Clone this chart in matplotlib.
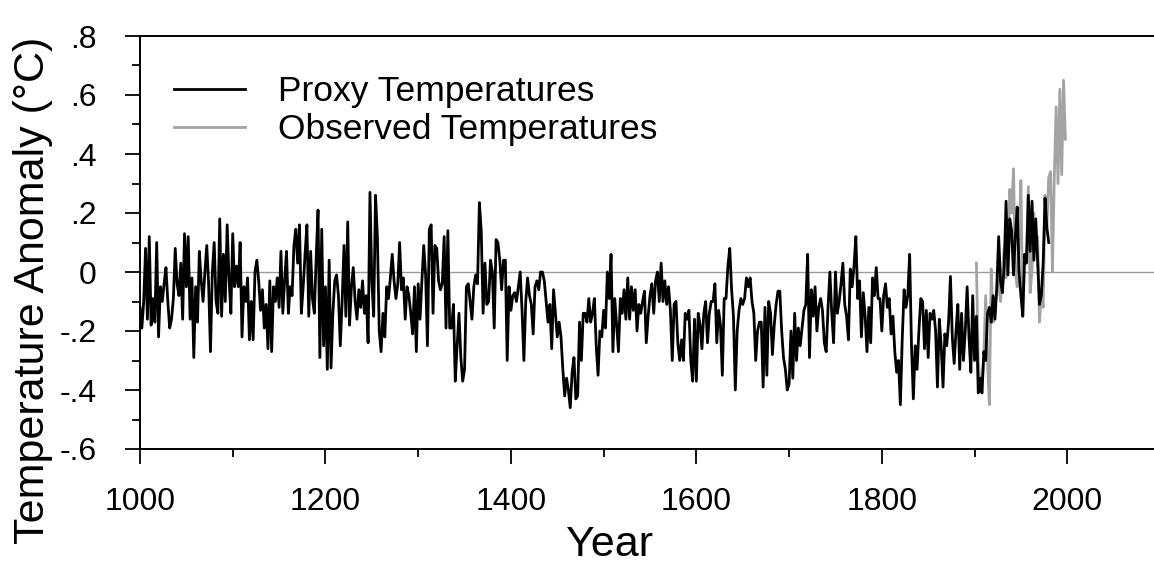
import numpy as np
import matplotlib
matplotlib.use("Agg")
import matplotlib.pyplot as plt
from matplotlib.ticker import MultipleLocator

plt.rcParams['font.family'] = ['Liberation Sans', 'DejaVu Sans']

# Proxy reconstruction, every 2 years (1000-1980)
proxy_temp = [
    -0.12, -0.19, -0.10, 0.08, -0.16, 0.12, -0.18, -0.09, -0.17, 0.10,      # 1000
    -0.22, -0.05, -0.10, -0.04, 0.015, -0.10, -0.19, -0.16, -0.09, 0.08,    # 1020
    -0.04, -0.08, 0.03, -0.16, 0.13, -0.05, 0.12, -0.16, -0.02, -0.29,      # 1040
    -0.05, -0.17, 0.07, -0.03, -0.10, 0.00, 0.09, -0.04, -0.27, 0.00,       # 1060
    0.10, -0.10, -0.14, 0.18, -0.15, 0.06, -0.10, 0.16, -0.02, -0.14,       # 1080
    0.13, -0.05, 0.02, -0.05, 0.10, -0.22, -0.05, -0.10, -0.02, -0.23,      # 1100
    -0.10, -0.23, 0.00, 0.04, -0.03, -0.13, -0.06, -0.19, -0.11, -0.26,     # 1120
    -0.03, -0.27, -0.05, -0.10, -0.02, -0.12, 0.07, -0.14, -0.03, 0.07,     # 1140
    -0.14, -0.05, -0.08, 0.09, 0.145, 0.03, 0.16, -0.14, -0.05, 0.06,       # 1160
    0.16, -0.15, 0.07, -0.09, -0.14, 0.05, 0.21, -0.29, 0.145, -0.25,       # 1180
    -0.05, -0.33, 0.04, -0.325, -0.14, -0.03, -0.01, -0.08, -0.25, -0.10,   # 1200
    0.09, -0.15, 0.17, -0.18, -0.05, 0.015, -0.10, -0.16, -0.06, -0.12,     # 1220
    -0.03, -0.14, -0.08, -0.24, 0.27, -0.03, -0.15, 0.26, 0.12, -0.20,      # 1240
    -0.27, -0.14, -0.22, -0.05, -0.09, -0.02, 0.06, -0.03, -0.09, -0.04,    # 1260
    0.10, -0.06, -0.02, -0.16, -0.05, -0.08, -0.14, -0.21, -0.05, -0.27,    # 1280
    -0.04, -0.16, -0.03, 0.09, -0.01, -0.25, 0.145, 0.16, -0.14, 0.09,      # 1300
    0.08, -0.03, -0.06, -0.04, 0.12, -0.19, 0.14, -0.19, -0.19, -0.11,      # 1320
    -0.37, -0.25, -0.14, -0.29, -0.37, -0.33, -0.05, -0.04, -0.10, -0.16,   # 1340
    -0.05, -0.01, -0.04, 0.235, 0.14, -0.14, 0.03, -0.11, -0.10, 0.04,      # 1360
    0.00, -0.19, 0.11, 0.10, 0.04, -0.06, 0.04, 0.04, -0.30, -0.05,         # 1380
    -0.13, -0.08, -0.07, -0.10, -0.05, 0.00, -0.13, -0.30, -0.10, -0.02,    # 1400
    -0.08, -0.11, -0.21, -0.05, -0.03, -0.06, 0.00, 0.00, -0.03, -0.10,     # 1420
    -0.17, -0.11, -0.26, -0.06, -0.14, -0.22, -0.17, -0.22, -0.33, -0.42,   # 1440
    -0.36, -0.40, -0.46, -0.34, -0.29, -0.43, -0.42, -0.17, -0.30, -0.14,   # 1460
    -0.14, -0.17, -0.09, -0.17, -0.14, -0.09, -0.25, -0.35, -0.20, -0.22,   # 1480
    -0.13, -0.19, 0.00, -0.09, 0.06, -0.27, -0.09, -0.18, -0.27, -0.09,     # 1500
    -0.14, -0.06, -0.16, -0.02, -0.16, -0.05, -0.13, -0.06, -0.20, -0.11,   # 1520
    -0.14, -0.10, -0.065, -0.24, -0.15, -0.08, -0.04, -0.14, -0.03, 0.00,   # 1540
    -0.10, 0.03, -0.10, -0.03, -0.11, -0.05, -0.13, -0.30, -0.11, -0.10,    # 1560
    -0.24, -0.30, -0.23, -0.30, -0.14, -0.16, -0.13, -0.30, -0.37, -0.16,   # 1580
    -0.37, -0.14, -0.18, -0.26, -0.14, -0.10, -0.24, -0.14, -0.10, -0.10,   # 1600
    -0.04, -0.24, -0.13, -0.18, -0.35, -0.09, -0.09, 0.02, 0.08, -0.06,     # 1620
    -0.15, -0.40, -0.20, -0.13, -0.09, -0.11, -0.09, -0.02, -0.05, -0.02,   # 1640
    -0.10, -0.14, -0.30, -0.20, -0.17, -0.17, -0.39, -0.12, -0.35, -0.10,   # 1660
    -0.14, -0.28, -0.18, -0.11, -0.065, -0.065, -0.20, -0.29, -0.33, -0.40, # 1680
    -0.38, -0.20, -0.36, -0.14, -0.30, -0.19, -0.25, -0.19, -0.13, -0.11,   # 1700
    0.06, -0.29, -0.06, -0.15, -0.05, -0.20, -0.12, -0.09, -0.13, -0.24,    # 1720
    -0.27, -0.12, 0.00, -0.14, -0.24, 0.00, -0.14, -0.10, -0.04, 0.03,      # 1740
    -0.11, -0.15, -0.23, 0.01, -0.05, 0.02, 0.12, -0.09, -0.03, -0.22,      # 1760
    -0.07, -0.15, -0.27, -0.12, -0.24, -0.02, -0.08, 0.015, -0.09, -0.09,   # 1780
    -0.20, -0.08, -0.04, -0.12, -0.09, -0.21, -0.15, -0.27, -0.34, -0.30,   # 1800
    -0.45, -0.23, -0.06, -0.12, -0.08, 0.06, -0.25, -0.43, -0.25, -0.33,    # 1820
    -0.20, -0.09, -0.10, -0.26, -0.13, -0.29, -0.14, -0.16, -0.13, -0.20,   # 1840
    -0.39, -0.16, -0.25, -0.39, -0.21, -0.25, -0.17, -0.015, -0.22, -0.31,  # 1860
    -0.20, -0.11, -0.33, -0.14, -0.30, -0.20, -0.05, -0.22, -0.34, -0.08,   # 1880
    -0.30, -0.15, -0.41, -0.36, -0.41, -0.27, -0.30, -0.14, -0.12, -0.17,   # 1900
    -0.08, -0.16, -0.05, 0.12, -0.03, -0.07, 0.02, 0.24, -0.01, 0.18,       # 1920
    0.14, -0.01, 0.12, 0.22, 0.00, -0.08, -0.15, 0.06, 0.03, 0.26,          # 1940
    0.07, 0.24, 0.04, 0.18, 0.04, -0.11, -0.08, 0.03, 0.25, 0.15, 0.10,     # 1960-1980
]
proxy_years = np.arange(1000, 1000 + 2 * len(proxy_temp), 2)

# Instrumental record, every 2 years (1902-1998)
obs_temp = [
    0.03, -0.30, -0.38, -0.40, -0.28, -0.08, -0.30, -0.45, 0.01,     # 1902
    -0.17, -0.10, -0.08, -0.02, -0.10, 0.00, 0.08, -0.02, 0.05,      # 1920
    0.28, 0.20, 0.35, 0.00, -0.05, 0.10, 0.31, -0.15, 0.05,          # 1938
    0.05, 0.29, -0.07, 0.01, 0.20, 0.08, 0.12, -0.17, -0.07,         # 1956
    -0.12, 0.26, 0.15, 0.32, 0.34, 0.00, 0.32, 0.56, 0.30,           # 1974
    0.62, 0.33, 0.65, 0.45,                                          # 1992
]
obs_years = np.arange(1902, 1902 + 2 * len(obs_temp), 2)

y_ticks = [-0.6, -0.4, -0.2, 0.0, 0.2, 0.4, 0.6, 0.8]
y_tick_labels = ['-.6', '-.4', '-.2', '0', '.2', '.4', '.6', '.8']
x_ticks = [1000, 1200, 1400, 1600, 1800, 2000]

fig = plt.figure(figsize=(11.54, 5.63), dpi=100)
ax = fig.add_axes([140 / 1154, 1 - 449 / 563, 1020 / 1154, 413 / 563])

ax.axhline(0, color='#9a9a9a', lw=1.0, zorder=1)
obs_line, = ax.plot(obs_years, obs_temp, color='#a3a3a3', lw=2.0, zorder=2,
                    label='Observed Temperatures')
proxy_line, = ax.plot(proxy_years, proxy_temp, color='black', lw=2.0, zorder=3,
                      label='Proxy Temperatures')

ax.set_xlim(1000, 2100)
ax.set_ylim(-0.6, 0.8)
ax.set_xticks(x_ticks)
ax.xaxis.set_minor_locator(MultipleLocator(100))
ax.set_yticks(y_ticks)
ax.set_yticklabels(y_tick_labels)
ax.yaxis.set_minor_locator(MultipleLocator(0.1))

for side in ['left', 'top', 'bottom']:
    ax.spines[side].set_linewidth(1.4)
ax.spines['right'].set_visible(False)

ax.tick_params(which='major', direction='out', length=11, width=1.3, labelsize=23)
ax.tick_params(which='minor', direction='out', length=5.5, width=1.3)
ax.tick_params(axis='x', which='major', pad=16)
ax.tick_params(axis='y', which='major', pad=20)

ax.set_xlabel('Year', fontsize=31)
ax.xaxis.set_label_coords(0.46, -0.183)
ax.set_ylabel('Temperature Anomaly (°C)', fontsize=31)
ax.yaxis.set_label_coords(-0.085, 0.385)

ax.legend(handles=[proxy_line, obs_line], loc='upper left',
          bbox_to_anchor=(0.016, 0.948), frameon=False, fontsize=25.5,
          handlelength=2.0, handletextpad=0.93, labelspacing=0.15, borderpad=0)

fig.savefig('out.png', dpi=100)
